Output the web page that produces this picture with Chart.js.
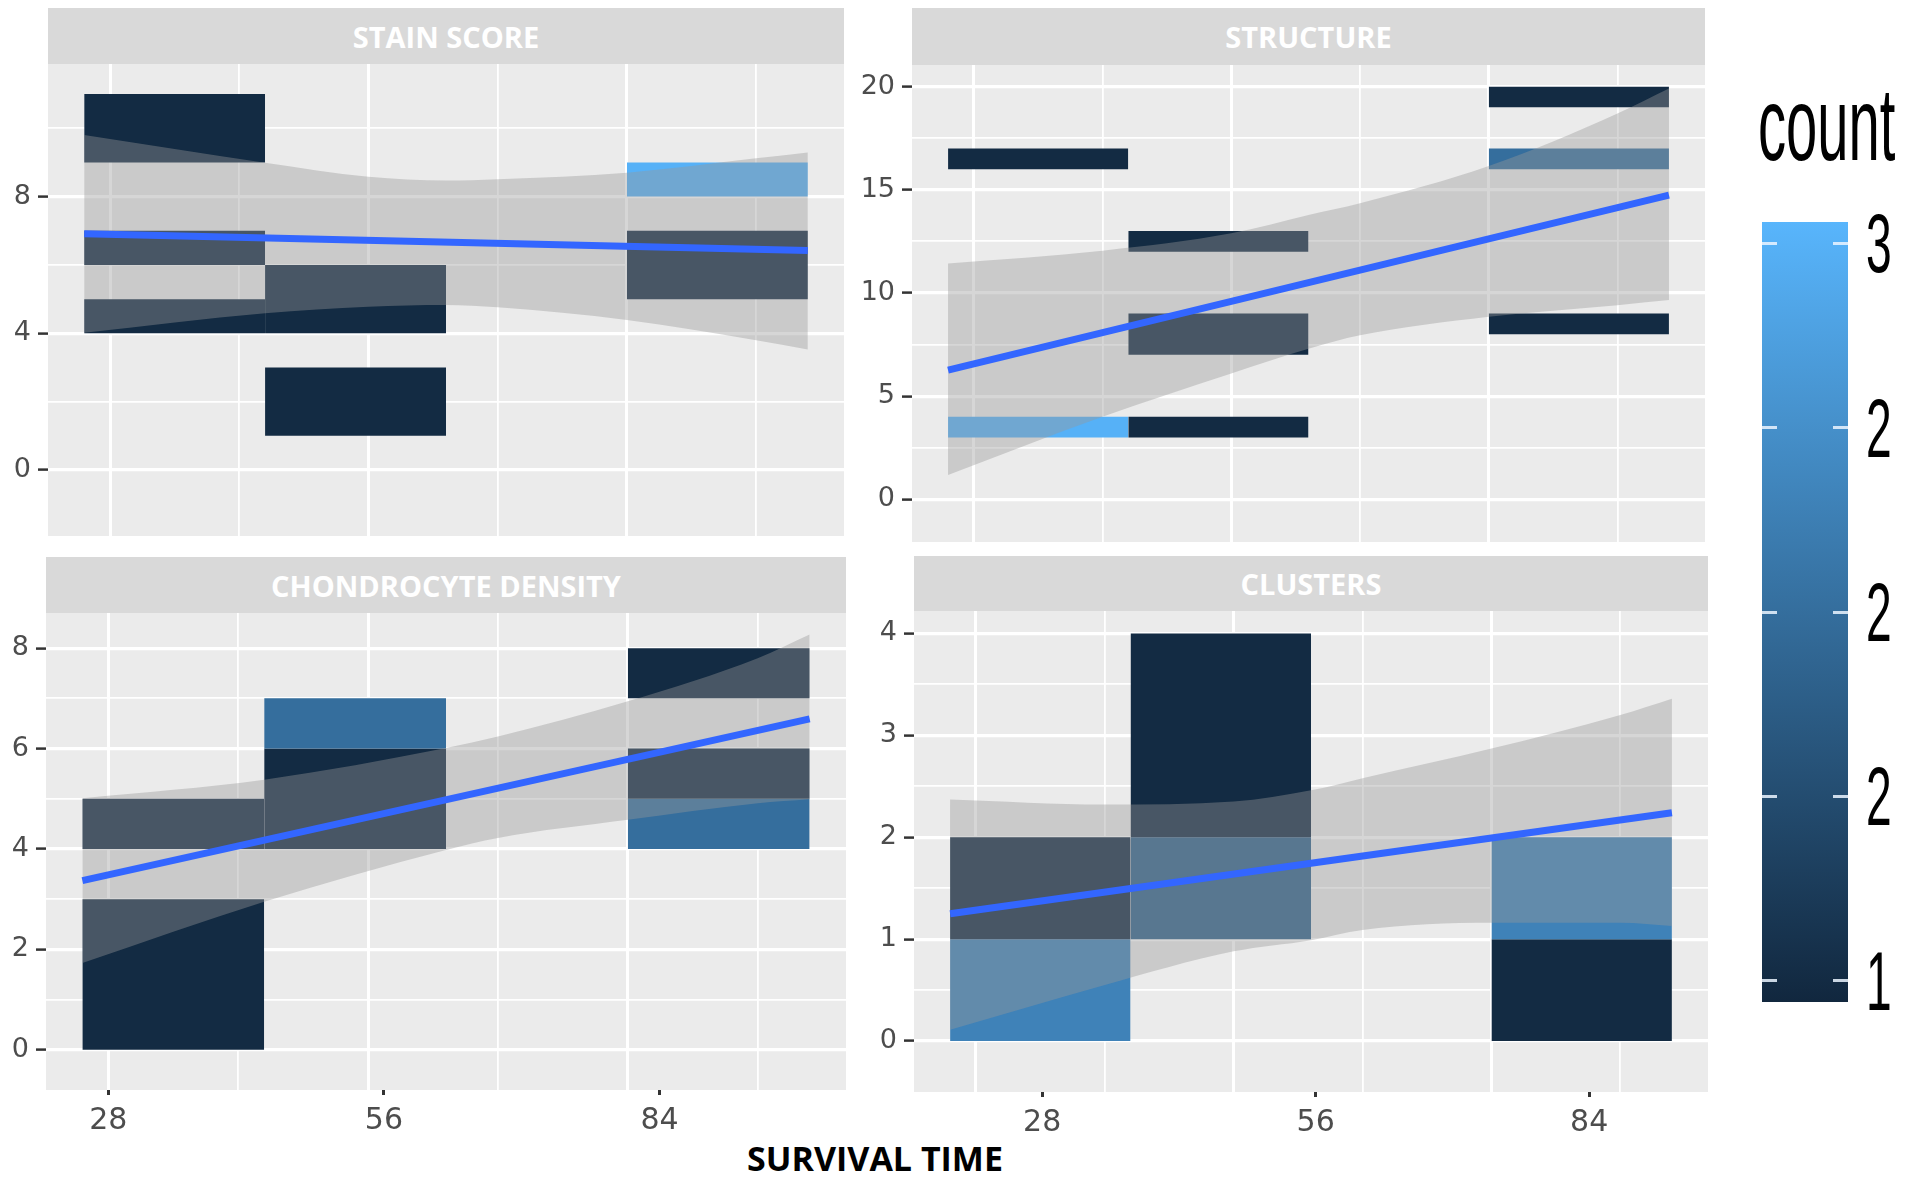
<!DOCTYPE html>
<html>
<head>
<meta charset="utf-8">
<script src="https://cdn.jsdelivr.net/npm/chart.js@4.4.1/dist/chart.umd.min.js"></script>
<style>
  html, body { margin: 0; padding: 0; background: #ffffff; }
  #page { position: relative; width: 1910px; height: 1184px; overflow: hidden; background: #ffffff; }
  canvas { position: absolute; }
  .strip { position: absolute; background: #D9D9D9; color: #ffffff; font-family: "Open Sans", sans-serif;
           font-weight: 700; font-size: 29px; display: flex; align-items: center; justify-content: center; }
  .legend-text { position: absolute; font-family: "Liberation Sans", Arial, sans-serif; color: #000; transform-origin: left center; white-space: nowrap; }
  #xtitle { position: absolute; left: 675px; width: 400px; top: 1135px; text-align: center;
            font-family: "Open Sans", sans-serif; font-weight: 700; font-size: 34px; color: #000; }
</style>
</head>
<body>
<div id="page">
  <div id="xtitle">SURVIVAL TIME</div>
</div>
<script>
// x bins (geom_bin2d style), grid ticks and the relabelled day axis
const xBinEdges = [0.9, 1.6, 2.3, 3.0, 3.7];
const xGridTicks = [1, 1.5, 2, 2.5, 3, 3.5];
const xMajor = [1, 2, 3];
const xTickLabels = [28, 56, 84];
const fitX = [0.9, 3.7];

const panelTitles = ['STAIN SCORE', 'STRUCTURE', 'CHONDROCYTE DENSITY', 'CLUSTERS'];

// tiles: [bin, low, high, count]
const stainTiles = [[0, 9, 11, 1], [0, 6, 7, 1], [0, 4, 5, 1], [1, 4, 6, 1], [1, 1, 3, 1], [3, 8, 9, 3], [3, 5, 7, 1]];
const structureTiles = [[0, 16, 17, 1], [0, 3, 4, 3], [1, 12, 13, 1], [1, 7, 9, 1], [1, 3, 4, 1], [3, 19, 20, 1], [3, 16, 17, 2], [3, 8, 9, 1]];
const chondroTiles = [[0, 0, 3, 1], [0, 4, 5, 1], [1, 6, 7, 2], [1, 4, 6, 1], [3, 7, 8, 1], [3, 5, 6, 1], [3, 4, 5, 2]];
const clusterTiles = [[0, 1, 2, 1], [0, 0, 1, 2.3], [1, 2, 4, 1], [1, 1, 2, 1.8], [3, 1, 2, 2.3], [3, 0, 1, 1]];

// linear fit and its confidence band
const stainFit = [6.91, 6.42];
const stainBandX = [0.9, 1.6, 2.0, 2.3, 2.5, 3.0, 3.5, 3.7];
const stainUpper = [9.80, 8.99, 8.58, 8.47, 8.51, 8.70, 9.12, 9.29];
const stainLower = [4.02, 4.59, 4.78, 4.83, 4.76, 4.39, 3.80, 3.53];

const structureFit = [6.26, 14.74];
const structureBandX = [0.9, 1.5, 2.0, 2.3, 2.5, 3.0, 3.5, 3.7];
const structureUpper = [11.43, 12.05, 12.89, 13.78, 14.35, 16.15, 18.70, 19.91];
const structureLower = [1.18, 4.00, 6.10, 7.30, 7.95, 8.85, 9.41, 9.66];

const chondroFit = [3.37, 6.59];
const chondroBandX = [0.9, 1.6, 2.3, 2.5, 3.0, 3.5, 3.7];
const chondroUpper = [5.01, 5.38, 6.01, 6.24, 6.94, 7.80, 8.27];
const chondroLower = [1.73, 2.95, 3.98, 4.22, 4.58, 4.91, 4.99];

const clusterFit = [1.25, 2.24];
const clusterBandX = [0.9, 1.5, 2.0, 2.3, 2.5, 3.0, 3.5, 3.7];
const clusterUpper = [2.37, 2.32, 2.35, 2.46, 2.58, 2.87, 3.20, 3.36];
const clusterLower = [0.11, 0.55, 0.88, 0.99, 1.09, 1.16, 1.16, 1.13];

// y axis ticks
const stainYTicks = [0, 4, 8], stainYMinor = [2, 6, 10];
const structureYTicks = [0, 5, 10, 15, 20], structureYMinor = [2.5, 7.5, 12.5, 17.5];
const chondroYTicks = [0, 2, 4, 6, 8], chondroYMinor = [1, 3, 5, 7];
const clusterYTicks = [0, 1, 2, 3, 4], clusterYMinor = [0.5, 1.5, 2.5, 3.5];

const legendBreaks = [1, 1.5, 2, 2.5, 3];
const legendLabels = ['1', '2', '2', '2', '3'];

function countColor(c) {
    const t = (c - 1) / 2;
    const lo = [19, 43, 67], hi = [86, 177, 247];
    const rgb = lo.map((v, i) => Math.round(v + (hi[i] - v) * t));
    return 'rgb(' + rgb.join(',') + ')';
}

const panelBg = {
    id: 'panelBg',
    beforeDraw(chart) {
        const a = chart.chartArea;
        const ctx = chart.ctx;
        ctx.save();
        ctx.fillStyle = '#EBEBEB';
        ctx.fillRect(a.left, a.top, a.width, a.height);
        ctx.restore();
    }
};

function noPad(a) {
    a.paddingTop = 0;
    a.paddingBottom = 0;
    a.paddingLeft = 0;
    a.paddingRight = 0;
}

function buildDatasets(tiles, fit, bandX, upper, lower) {
    const ds = [];
    ds.push({
        data: fitX.map((x, i) => ({x: x, y: fit[i]})),
        borderColor: '#3366FF', borderWidth: 7, pointRadius: 0, fill: false, order: 1
    });
    ds.push({
        data: bandX.map((x, i) => ({x: x, y: lower[i]})),
        borderColor: 'rgba(0,0,0,0)', borderWidth: 0, pointRadius: 0, fill: false,
        cubicInterpolationMode: 'monotone', order: 2
    });
    ds.push({
        data: bandX.map((x, i) => ({x: x, y: upper[i]})),
        borderColor: 'rgba(0,0,0,0)', borderWidth: 0, pointRadius: 0, fill: '-1',
        backgroundColor: 'rgba(153,153,153,0.4)', cubicInterpolationMode: 'monotone', order: 2
    });
    tiles.forEach(([b, lo, hi, c]) => {
        ds.push({
            data: [{x: xBinEdges[b], y: hi}, {x: xBinEdges[b + 1], y: hi}],
            fill: {value: lo}, backgroundColor: countColor(c),
            borderColor: 'rgba(0,0,0,0)', borderWidth: 0, pointRadius: 0, order: 3
        });
    });
    return ds;
}

const panels = [
    {title: panelTitles[0], tiles: stainTiles, fit: stainFit, bx: stainBandX, up: stainUpper, lo: stainLower,
     yt: stainYTicks, ym: stainYMinor, ymin: -1.93, ymax: 11.88,
     left: 0, top: 64, yw: 48, w: 796, h: 472, strip: [48, 8, 796, 56], bottom: false},
    {title: panelTitles[1], tiles: structureTiles, fit: structureFit, bx: structureBandX, up: structureUpper, lo: structureLower,
     yt: structureYTicks, ym: structureYMinor, ymin: -2.07, ymax: 21.05,
     left: 852, top: 65, yw: 60, w: 793, h: 477, strip: [912, 8, 793, 57], bottom: false},
    {title: panelTitles[2], tiles: chondroTiles, fit: chondroFit, bx: chondroBandX, up: chondroUpper, lo: chondroLower,
     yt: chondroYTicks, ym: chondroYMinor, ymin: -0.80, ymax: 8.70,
     left: 0, top: 613, yw: 46, w: 800, h: 477, strip: [46, 557, 800, 56], bottom: true, dmin: 21.67, dmax: 102.95},
    {title: panelTitles[3], tiles: clusterTiles, fit: clusterFit, bx: clusterBandX, up: clusterUpper, lo: clusterLower,
     yt: clusterYTicks, ym: clusterYMinor, ymin: -0.50, ymax: 4.22,
     left: 854, top: 611, yw: 60, w: 794, h: 481, strip: [914, 556, 794, 55], bottom: true, dmin: 14.88, dmax: 96.17}
];

const page = document.getElementById('page');

panels.forEach((p) => {
    const strip = document.createElement('div');
    strip.className = 'strip';
    strip.style.left = p.strip[0] + 'px';
    strip.style.top = p.strip[1] + 'px';
    strip.style.width = p.strip[2] + 'px';
    strip.style.height = p.strip[3] + 'px';
    strip.textContent = p.title;
    page.appendChild(strip);

    const xh = p.bottom ? 60 : 0;
    const cv = document.createElement('canvas');
    cv.width = p.yw + p.w;
    cv.height = p.h + xh;
    cv.style.left = p.left + 'px';
    cv.style.top = p.top + 'px';
    cv.style.width = cv.width + 'px';
    cv.style.height = cv.height + 'px';
    page.appendChild(cv);

    const yAll = p.yt.concat(p.ym).sort((a, b) => a - b);
    const scales = {
        x: {
            type: 'linear', min: 0.76, max: 3.84,
            afterBuildTicks: (a) => { a.ticks = xGridTicks.map(v => ({value: v})); },
            ticks: {display: false},
            grid: {
                color: '#FFFFFF', drawTicks: false,
                lineWidth: (c) => (c.tick && xMajor.includes(c.tick.value)) ? 3 : 1.8
            },
            border: {display: false},
            afterFit: (a) => { a.height = 0; noPad(a); }
        },
        y: {
            type: 'linear', min: p.ymin, max: p.ymax,
            afterBuildTicks: (a) => { a.ticks = yAll.map(v => ({value: v})); },
            ticks: {
                font: {family: 'DejaVu Sans', size: 27}, color: '#4D4D4D', padding: 7,
                callback: (v) => p.yt.includes(v) ? String(v) : ''
            },
            grid: {
                color: '#FFFFFF', drawTicks: true, tickLength: 10, tickWidth: 2.5,
                tickColor: (c) => (c.tick && p.yt.includes(c.tick.value)) ? '#333333' : 'rgba(0,0,0,0)',
                lineWidth: (c) => (c.tick && p.yt.includes(c.tick.value)) ? 3.2 : 1.8
            },
            border: {display: false},
            afterFit: (a) => { a.width = p.yw; noPad(a); }
        }
    };
    if (p.bottom) {
        scales.xd = {
            type: 'linear', position: 'bottom', min: p.dmin, max: p.dmax,
            afterBuildTicks: (a) => { a.ticks = xTickLabels.map(v => ({value: v})); },
            ticks: {
                font: {family: 'DejaVu Sans', size: 30}, color: '#4D4D4D', padding: 8,
                maxRotation: 0, autoSkip: false, callback: (v) => String(v)
            },
            grid: {display: true, drawOnChartArea: false, drawTicks: true, tickLength: 5, tickWidth: 3, tickColor: '#333333'},
            border: {display: false},
            afterFit: (a) => { a.height = 60; noPad(a); }
        };
    }

    new Chart(cv.getContext('2d'), {
        type: 'line',
        data: {datasets: buildDatasets(p.tiles, p.fit, p.bx, p.up, p.lo)},
        options: {
            responsive: false,
            animation: false,
            events: [],
            layout: {padding: 0, autoPadding: false},
            plugins: {legend: {display: false}, tooltip: {enabled: false}, title: {display: false}},
            scales: scales
        },
        plugins: [panelBg]
    });
});

// colour bar legend
const barLeft = 1762, barTop = 222, barW = 86, barH = 780;
const barMin = 0.943, barMax = 3.057;
const bar = document.createElement('div');
bar.style.cssText = 'position:absolute;left:' + barLeft + 'px;top:' + barTop + 'px;width:' + barW + 'px;height:' + barH +
    'px;background:linear-gradient(to bottom,' + countColor(barMax) + ',' + countColor(barMin) + ');';
page.appendChild(bar);

const title = document.createElement('div');
title.className = 'legend-text';
title.style.cssText += 'left:1758px;top:64px;font-size:104px;line-height:120px;transform:scaleX(0.54);';
title.textContent = 'count';
page.appendChild(title);

legendBreaks.forEach((v, i) => {
    const y = barTop + (barMax - v) / (barMax - barMin) * barH;
    [barLeft, barLeft + barW - 15].forEach(x => {
        const t = document.createElement('div');
        t.style.cssText = 'position:absolute;left:' + x + 'px;top:' + (y - 1.5) + 'px;width:15px;height:3px;background:rgba(235,245,255,0.85);';
        page.appendChild(t);
    });
    const lab = document.createElement('div');
    lab.className = 'legend-text';
    lab.style.cssText += 'left:1866px;top:' + (y - 48) + 'px;font-size:84px;line-height:96px;transform:scaleX(0.55);';
    lab.textContent = legendLabels[i];
    page.appendChild(lab);
});
</script>
</body>
</html>
